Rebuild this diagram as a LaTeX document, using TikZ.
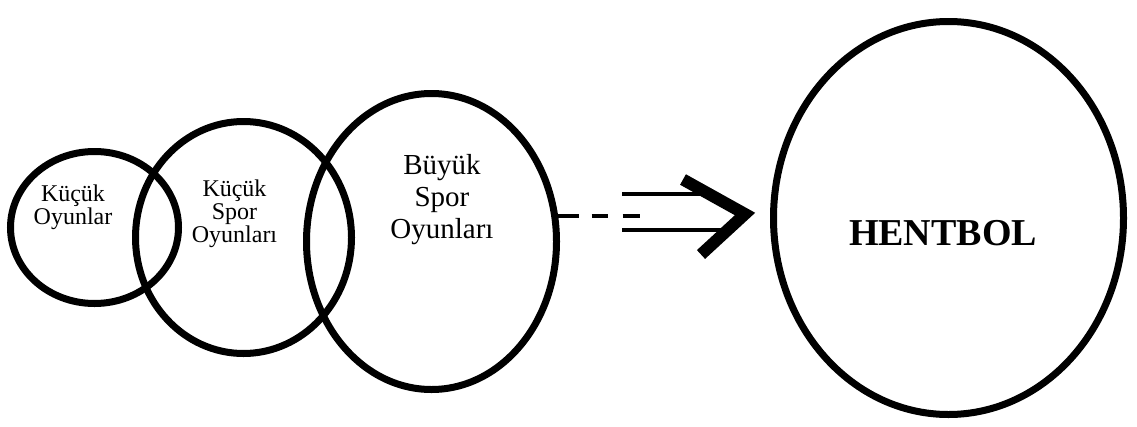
\documentclass[tikz,border=0pt]{standalone}
\usepackage{fontspec}
\setmainfont{Liberation Serif}
\usetikzlibrary{shapes.geometric}
\begin{document}
\begin{tikzpicture}[x=1pt, y=-1pt,
  ring/.style={draw, ellipse, line width=7pt, inner sep=0pt, outer sep=0pt},
  lbl/.style={align=center, inner sep=0pt},
  rail/.style={line width=4pt},
  chevron/.style={line width=12pt, line join=miter, miter limit=10}]
\useasboundingbox (0,0) rectangle (1137,426);

% overlapping rings
\node[ring, minimum width=168pt, minimum height=152pt] (c1) at (94.5,227.5) {};
\node[ring, minimum width=216pt, minimum height=232pt] (c2) at (243.5,237.5) {};
\node[ring, minimum width=250pt, minimum height=296pt] (c3) at (431.5,241.5) {};
\node[ring, minimum width=350pt, minimum height=393pt] (c4) at (948.5,218) {};

% ring labels
\node[lbl, font=\fontsize{24}{23}\selectfont] (t1) at (73,207.5) {Küçük\\Oyunlar};
\node[lbl, font=\fontsize{24}{23}\selectfont] (t2) at (234.5,213.5) {Küçük\\Spor\\Oyunları};
\node[lbl, font=\fontsize{29}{32}\selectfont] (t3) at (442,200) {Büyük\\Spor\\Oyunları};
\node[inner sep=0pt, anchor=base, font=\fontsize{38}{40}\selectfont\bfseries] (t4) at (943,245) {HENTBOL};

% dashed lead-out
\coordinate (d1) at (640,216);
\draw[rail, dash pattern=on 22pt off 13pt on 16pt off 15pt on 17pt] (c3.east |- d1) -- (d1);

% double shaft
\coordinate (p1) at (622,194);
\coordinate (p2) at (710,194);
\coordinate (q1) at (622,230);
\coordinate (q2) at (728,230);
\draw[rail] (p1) -- (p2);
\draw[rail] (q1) -- (q2);

% arrow head
\coordinate (k1) at (683,179.5);
\coordinate (tip) at (745,214);
\coordinate (k2) at (701,254.5);
\draw[chevron] (k1) -- (tip) -- (k2);
\end{tikzpicture}
\end{document}
